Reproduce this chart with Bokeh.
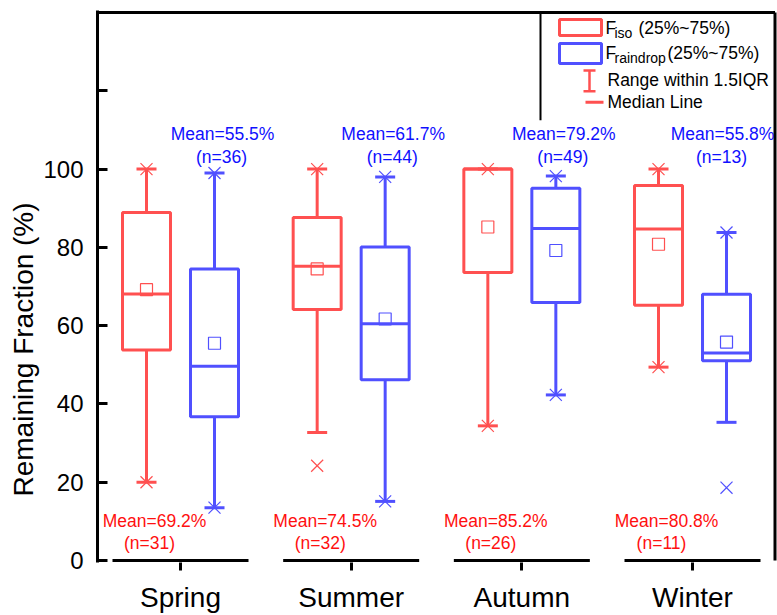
from bokeh.plotting import figure
from bokeh.models import Range1d, FixedTicker, Title
from bokeh.core.properties import value
from bokeh.embed import file_html
from bokeh.resources import INLINE

# ---------------- data ----------------
seasons = ["Spring", "Summer", "Autumn", "Winter"]
season_pos = [1, 2, 3, 4]

iso_q1 = [53.8, 64.1, 73.6, 65.2]
iso_median = [68.1, 75.2, 100.0, 84.7]
iso_q3 = [88.9, 87.6, 100.0, 95.8]
iso_whisker_low = [20.0, 32.7, 34.4, 49.4]
iso_whisker_high = [100.0, 100.0, 100.0, 100.0]
iso_min = [20.0, 24.2, 34.4, 49.4]
iso_max = [100.0, 100.0, 100.0, 100.0]
iso_mean = [69.2, 74.5, 85.2, 80.8]
iso_n = [31, 32, 26, 11]

rain_q1 = [36.7, 46.2, 65.9, 51.0]
rain_median = [49.6, 60.5, 84.8, 53.0]
rain_q3 = [74.5, 80.1, 95.1, 68.0]
rain_whisker_low = [13.5, 15.1, 42.3, 35.3]
rain_whisker_high = [99.0, 98.0, 98.2, 83.8]
rain_min = [13.5, 15.1, 42.3, 18.6]
rain_max = [99.0, 98.0, 98.2, 83.8]
rain_mean = [55.5, 61.7, 79.2, 55.8]
rain_n = [36, 44, 49, 13]

y_ticks = [0, 20, 40, 60, 80, 100, 120]
y_top = 140
y_title = "Remaining Fraction (%)"

# ---------------- layout / style ----------------
W, H = 777, 615
FL, FR, FT, FB = 97, 777, 10, 563        # frame edges in px
PX_Y0, PX_YTOP = 561.0, 12.0              # px of y=0 and y=y_top
PX_PER_Y = (PX_Y0 - PX_YTOP) / y_top
Y1 = y_top + (PX_YTOP - FT) / PX_PER_Y
Y0 = -(FB - PX_Y0) / PX_PER_Y
CAT_PX0, CAT_STEP = 180.0, 170.67        # px of first category, px between categories
XS = 1 - (CAT_PX0 - FL) / CAT_STEP
XE = 1 + (FR - CAT_PX0) / CAT_STEP
PPX = 1.0 / CAT_STEP

def px2x(px):
    return 1 + (px - CAT_PX0) * PPX

def px2y(py):
    return (PX_Y0 - py) / PX_PER_Y

RED, BLUE = "#FF5050", "#5050FF"
RED_T, BLUE_T = "#FF1010", "#1010FF"
FONT = "Liberation Sans"
OFF = 34 * PPX          # box offset from category centre
HALF = 24 * PPX         # half box width
CAP = 10 * PPX          # half cap width

p = figure(width=W, height=H, x_range=Range1d(XS, XE), y_range=Range1d(Y0, Y1),
           output_backend="svg", toolbar_location=None,
           min_border_left=FL, min_border_right=W - FR, min_border_top=FT,
           min_border_bottom=H - FB)
p.outline_line_color = None
p.xgrid.visible = False
p.ygrid.visible = False
p.background_fill_color = "white"
p.border_fill_color = "white"

# y axis
ya = p.yaxis[0]
ya.ticker = FixedTicker(ticks=y_ticks)
ya.major_label_overrides = {120: ""}
ya.major_tick_in = 10
ya.major_tick_out = 0
ya.major_tick_line_width = 3
ya.minor_tick_line_color = None
ya.axis_line_width = 3
ya.major_label_text_font = FONT
ya.major_label_text_font_size = "24px"
ya.major_label_text_color = "black"
ya.major_label_standoff = 14

# y axis title as a side title (the reference places it lower than the frame middle)
p.add_layout(Title(text=y_title, align="left", offset=66, text_font=FONT,
                   text_font_size="28px", text_font_style="normal",
                   text_color="black", standoff=4), "left")

# x axis (broken line drawn separately)
xa = p.xaxis[0]
xa.ticker = FixedTicker(ticks=season_pos)
xa.major_label_overrides = {pos: name for pos, name in zip(season_pos, seasons)}
xa.axis_line_color = None
xa.major_tick_in = 0
xa.major_tick_out = 8
xa.major_tick_line_width = 3
xa.minor_tick_line_color = None
xa.major_label_text_font = FONT
xa.major_label_text_font_size = "28px"
xa.major_label_text_color = "black"
xa.major_label_standoff = 11

# top and right frame lines
p.segment(x0=[XS, px2x(774.5)], x1=[px2x(774.5), px2x(774.5)],
          y0=[y_top, y_top], y1=[y_top, 0], line_color="black", line_width=3)

# broken bottom axis segments
p.segment(x0=[s - 68 * PPX for s in season_pos], x1=[s + 68 * PPX for s in season_pos],
          y0=[0] * 4, y1=[0] * 4, line_color="black", line_width=3)

def draw_series(pos, q1, med, q3, wlo, whi, mn, mx, mean, color):
    p.segment(x0=pos, x1=pos, y0=q3, y1=whi, line_color=color, line_width=3)
    p.segment(x0=pos, x1=pos, y0=wlo, y1=q1, line_color=color, line_width=3)
    p.segment(x0=[x - CAP for x in pos], x1=[x + CAP for x in pos], y0=whi, y1=whi,
              line_color=color, line_width=3)
    p.segment(x0=[x - CAP for x in pos], x1=[x + CAP for x in pos], y0=wlo, y1=wlo,
              line_color=color, line_width=3)
    p.quad(left=[x - HALF for x in pos], right=[x + HALF for x in pos], bottom=q1, top=q3,
           fill_color=None, line_color=color, line_width=3)
    p.segment(x0=[x - HALF for x in pos], x1=[x + HALF for x in pos], y0=med, y1=med,
              line_color=color, line_width=3)
    p.scatter(x=pos + pos, y=mn + mx, marker="x", size=17, line_color=color, line_width=1.2)
    p.scatter(x=pos, y=mean, marker="square", size=12, fill_color=None,
              line_color=color, line_width=1.2)

iso_pos = [s - OFF for s in season_pos]
rain_pos = [s + OFF for s in season_pos]
draw_series(iso_pos, iso_q1, iso_median, iso_q3, iso_whisker_low, iso_whisker_high,
            iso_min, iso_max, iso_mean, RED)
draw_series(rain_pos, rain_q1, rain_median, rain_q3, rain_whisker_low, rain_whisker_high,
            rain_min, rain_max, rain_mean, BLUE)

# annotations
TXT = dict(text_font=value(FONT), text_font_size="17.5px", text_align="center",
           text_baseline="middle")
rain_lab_dx = [8, 8, 8, -4]
p.text(x=[x + d * PPX for x, d in zip(rain_pos, rain_lab_dx)], y=[px2y(134)] * 4,
       text=[f"Mean={m}%" for m in rain_mean], text_color=BLUE_T, **TXT)
p.text(x=[x + (d - 1) * PPX for x, d in zip(rain_pos, rain_lab_dx)], y=[px2y(157)] * 4,
       text=[f"(n={n})" for n in rain_n], text_color=BLUE_T, **TXT)
p.text(x=[x + 8 * PPX for x in iso_pos], y=[px2y(521)] * 4,
       text=[f"Mean={m}%" for m in iso_mean], text_color=RED_T, **TXT)
p.text(x=[x + 3 * PPX for x in iso_pos], y=[px2y(543)] * 4,
       text=[f"(n={n})" for n in iso_n], text_color=RED_T, **TXT)

# legend (drawn by hand because of the subscripts)
p.segment(x0=[px2x(540)], x1=[px2x(540)], y0=[px2y(12)], y1=[px2y(120)],
          line_color="black", line_width=2)
p.quad(left=[px2x(559)], right=[px2x(601)], bottom=[px2y(35)], top=[px2y(19)],
       fill_color=None, line_color=RED, line_width=3)
p.quad(left=[px2x(559)], right=[px2x(601)], bottom=[px2y(63)], top=[px2y(43)],
       fill_color=None, line_color=BLUE, line_width=3)
p.segment(x0=[px2x(589), px2x(583), px2x(583)], x1=[px2x(589), px2x(595), px2x(595)],
          y0=[px2y(70), px2y(70), px2y(91)], y1=[px2y(91), px2y(70), px2y(91)],
          line_color=RED, line_width=2.5)
p.segment(x0=[px2x(585)], x1=[px2x(603)], y0=[px2y(102)], y1=[px2y(102)],
          line_color=RED, line_width=3)
LT = dict(text_font=value(FONT), text_align="left", text_baseline="middle",
          text_color="black")
p.text(x=[px2x(605), px2x(605)], y=[px2y(28), px2y(53)], text=["F", "F"],
       text_font_size="17.5px", **LT)
p.text(x=[px2x(614), px2x(614)], y=[px2y(33), px2y(58)], text=["iso", "raindrop"],
       text_font_size="14px", **LT)
p.text(x=[px2x(638), px2x(667)], y=[px2y(28), px2y(53)], text=["(25%~75%)", "(25%~75%)"],
       text_font_size="17.5px", **LT)
p.text(x=[px2x(607), px2x(607)], y=[px2y(80), px2y(102)],
       text=["Range within 1.5IQR", "Median Line"], text_font_size="17.5px", **LT)

open("out.html", "w").write(file_html(p, INLINE))
